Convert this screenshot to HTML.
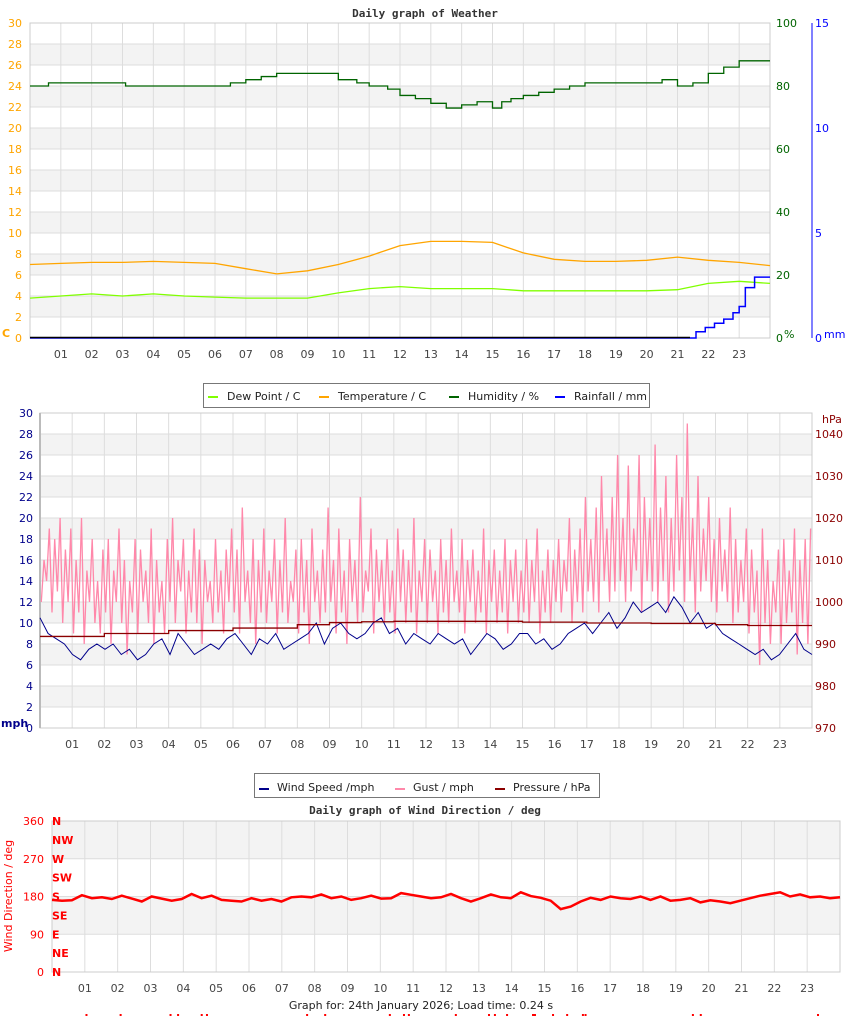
<!DOCTYPE html>
<html><head><meta charset="utf-8"><style>
body{margin:0;background:#fff;width:850px;height:1017px;overflow:hidden}
svg{display:block}
text{font-family:"DejaVu Sans","Liberation Sans",sans-serif;font-size:11px}
.ttl{font-family:"DejaVu Sans Mono","Liberation Mono",monospace;font-weight:bold;font-size:11px;fill:#333}
</style></head><body>
<svg id="s" width="850" height="1017" xmlns="http://www.w3.org/2000/svg"></svg>
<script>
// ===== Chart 1 data =====
const hourLabels=["01","02","03","04","05","06","07","08","09","10","11","12","13","14","15","16","17","18","19","20","21","22","23"];
const tempHours=[0,1,2,3,4,5,6,7,8,9,10,11,12,13,14,15,16,17,18,19,20,21,22,23,24];
const tempVals=[7.0,7.1,7.2,7.2,7.3,7.2,7.1,6.6,6.1,6.4,7.0,7.8,8.8,9.2,9.2,9.1,8.1,7.5,7.3,7.3,7.4,7.7,7.4,7.2,6.9];
const dewVals=[3.8,4.0,4.2,4.0,4.2,4.0,3.9,3.8,3.8,3.8,4.3,4.7,4.9,4.7,4.7,4.7,4.5,4.5,4.5,4.5,4.5,4.6,5.2,5.4,5.2];
const humHours=[0,0.6,3,3.1,5.5,6.5,7,7.5,8,9.3,10,10.6,11,11.6,12,12.5,13,13.5,14,14.5,15,15.3,15.6,16,16.5,17,17.5,18,19,20,20.5,21,21.5,22,22.5,23,24];
const humVals=[80,81,81,80,80,81,82,83,84,84,82,81,80,79,77,76,74.5,73,74,75,73,75,76,77,78,79,80,81,81,81,82,80,81,84,86,88,88];
const rainHours=[0,21.4,21.6,21.9,22.2,22.5,22.8,23.0,23.2,23.5,24];
const rainVals=[0,0,0.3,0.5,0.7,0.9,1.2,1.5,2.4,2.9,2.9];
const tempTicks=[0,2,4,6,8,10,12,14,16,18,20,22,24,26,28,30];
const humTicks=[0,20,40,60,80,100];
const rainTicks=[0,5,10,15];
// ===== Chart 2 data =====
const gustVals=[
12,16,14,19,11,18,13,20,10,17,12,19, 9,16,11,20,8,15,12,18,10,14,9,17,
11,18,8,15,12,19,10,16,7,14,11,18, 9,17,12,15,10,19,8,16,11,14,9,18,
12,20,10,16,13,18,9,15,11,19,10,17, 8,16,12,14,10,18,11,15,9,17,12,19,
11,17,9,21,12,15,10,18,8,16,11,19, 10,15,12,18,9,16,11,20,10,14,12,17,
9,18,11,16,8,19,12,15,10,17,11,21, 12,16,9,19,11,15,8,18,12,16,10,22,
11,15,13,19,9,17,12,16,10,18,11,15, 9,19,12,17,10,16,11,20,9,15,12,18,
10,17,12,15,9,18,11,16,10,19,12,15, 11,18,9,16,12,17,10,15,11,19,9,16,
12,17,10,15,11,18,9,16,12,17,10,15, 11,18,10,16,12,19,9,15,11,17,10,16,
12,18,11,16,13,20,10,17,12,19,11,22, 13,18,12,21,11,24,14,19,12,22,13,26,
14,20,12,25,13,19,15,26,11,22,14,20, 13,27,12,21,14,24,11,20,13,26,15,22,
12,29,14,20,11,24,13,19,14,22,12,18, 11,20,13,17,12,21,10,18,11,16,12,19,
9,17,11,15,6,19,10,16,8,14,11,17, 8,18,10,15,11,19,7,16,10,18,8,19];
const windVals=[10.5,9,8.5,8,7,6.5,7.5,8,7.5,8,7,7.5,6.5,7,8,8.5,7,9,8,7,7.5,8,7.5,8.5,9,8,7,8.5,8,9,7.5,8,8.5,9,10,8,9.5,10,9,8.5,9,10,10.5,9,9.5,8,9,8.5,8,9,8.5,8,8.5,7,8,9,8.5,7.5,8,9,9,8,8.5,7.5,8,9,9.5,10,9,10,11,9.5,10.5,12,11,11.5,12,11,12.5,11.5,10,11,9.5,10,9,8.5,8,7.5,7,7.5,6.5,7,8,9,7.5,7];
const pressHours=[0,2,4,6,8,9,10,11,13,15,17,19,21,22,24];
const pressVals=[991.8,992.5,993.2,993.8,994.6,995.1,995.3,995.4,995.4,995.2,995.0,994.9,994.6,994.4,994.4];
const mphTicks=[0,2,4,6,8,10,12,14,16,18,20,22,24,26,28,30];
const hpaTicks=[970,980,990,1000,1010,1020,1030,1040];
// ===== Chart 3 data =====
const dirVals=[172,170,171,183,176,178,174,182,175,168,180,175,170,174,186,176,182,172,170,168,176,170,174,168,178,180,178,185,176,180,172,176,182,175,176,188,184,180,176,178,186,176,168,176,185,178,176,190,181,177,170,150,156,168,177,172,180,176,174,180,172,180,170,172,176,166,171,168,164,170,176,182,186,190,180,185,178,180,176,178];
const dirTicks=[0,90,180,270,360];
const dirNames=["N","NE","E","SE","S","SW","W","NW","N"];
const tipHours=[1.05,2.09,3.61,3.84,4.56,4.72,7.77,8.32,10.29,10.72,10.87,12.3,13.31,13.49,13.86,14.65,14.71,15.26,15.69,16.17,16.25,19.52,19.76,23.33];

const S=document.getElementById('s');const NS="http://www.w3.org/2000/svg";
function el(t,a,p){const e=document.createElementNS(NS,t);for(const k in a)e.setAttribute(k,a[k]);(p||S).appendChild(e);return e;}
function tx(x,y,s,a,p){const e=el('text',Object.assign({x:x,y:y},a||{}),p);e.textContent=s;return e;}
function path(pts){return pts.map((p,i)=>(i?'L':'M')+p[0].toFixed(1)+' '+p[1].toFixed(1)).join('');}
function stepPath(pts){let d='';pts.forEach((p,i)=>{if(!i)d+='M'+p[0]+' '+p[1];else d+='L'+p[0]+' '+pts[i-1][1]+'L'+p[0]+' '+p[1];});return d;}

// ---------- Chart 1 ----------
const x1=h=>30+h*740/24, yT=v=>338-v*10.5, yH=v=>338-v*3.15, yR=v=>338-v*21;
const g1=el('g',{});


let t=tx(425,17,'Daily graph of Weather',{class:'ttl','text-anchor':'middle'},g1);

for(let i=0;i<15;i++){if(i%2==1)el('rect',{x:30,y:yT(30-2*i),width:740,height:21,fill:'#f3f3f3'},g1);}
tempTicks.forEach(v=>{el('line',{x1:30,x2:770,y1:yT(v),y2:yT(v),stroke:'#ddd'},g1);
 const l=tx(22,yT(v)+4,String(v),{fill:'#ffa500','text-anchor':'end'},g1);});
for(let h=1;h<24;h++)el('line',{x1:x1(h),x2:x1(h),y1:23,y2:338,stroke:'#ddd'},g1);
el('rect',{x:30,y:23,width:740,height:315,fill:'none',stroke:'#ccc'},g1);
hourLabels.forEach((s,i)=>{const l=tx(x1(i+1),358,s,{fill:'#444','text-anchor':'middle'},g1);});
humTicks.forEach(v=>{const l=tx(776,yH(v)+4,String(v),{fill:'#006400'},g1);});
tx(784,338,'%',{fill:'#006400'},g1);
el('line',{x1:812,x2:812,y1:23,y2:338,stroke:'#0000ff'},g1);
rainTicks.forEach(v=>{const l=tx(815,yR(v)+4,String(v),{fill:'#0000ff'},g1);});
tx(824,338,'mm',{fill:'#0000ff'},g1);
tx(2,337,'C',{fill:'#ffa500','font-weight':'bold'},g1);
let p=el('path',{d:stepPath(humHours.map((h,i)=>[x1(h),yH(humVals[i])])),fill:'none',stroke:'#006400','stroke-width':1.3},g1);

p=el('path',{d:path(tempHours.map((h,i)=>[x1(h),yT(tempVals[i])])),fill:'none',stroke:'#ffa500','stroke-width':1.3},g1);

p=el('path',{d:path(tempHours.map((h,i)=>[x1(h),yT(dewVals[i])])),fill:'none',stroke:'#80ff00','stroke-width':1.3},g1);

p=el('path',{d:stepPath(rainHours.map((h,i)=>[x1(h),yR(rainVals[i])])),fill:'none',stroke:'#0000ff','stroke-width':1.5},g1);

el('line',{x1:30,x2:690,y1:337.5,y2:337.5,stroke:'#000','stroke-width':1.5},g1);
// legend 1
const L1=el('g',{});
el('rect',{x:203.5,y:383.5,width:446,height:24,fill:'#fff',stroke:'#777'},L1);
[["Dew Point / C","#80ff00",208],["Temperature / C","#ffa500",319],["Humidity / %","#006400",449],["Rainfall / mm","#0000ff",555]].forEach(a=>{
 const g=el('g',{},L1);
 el('rect',{x:a[2],y:396,width:10,height:2,fill:a[1]},g);tx(a[2]+19,400,a[0],{fill:'#222'},g);});

// ---------- Chart 2 ----------
const x2=h=>40+h*772/24, y2=v=>728-v*10.5, yP=v=>728-(v-970)*4.2;
const g2=el('g',{});
for(let i=0;i<15;i++){if(i%2==1)el('rect',{x:40,y:y2(30-2*i),width:772,height:21,fill:'#f3f3f3'},g2);}
mphTicks.forEach(v=>{el('line',{x1:40,x2:812,y1:y2(v),y2:y2(v),stroke:'#ddd'},g2);
 const l=tx(33,y2(v)+4,String(v),{fill:'#00008b','text-anchor':'end'},g2);});
for(let h=1;h<24;h++)el('line',{x1:x2(h),x2:x2(h),y1:413,y2:728,stroke:'#ddd'},g2);
el('rect',{x:40,y:413,width:772,height:315,fill:'none',stroke:'#ccc'},g2);
el('line',{x1:40,x2:40,y1:413,y2:728,stroke:'#bbb','stroke-width':2},g2);
hourLabels.forEach((s,i)=>{const l=tx(x2(i+1),748,s,{fill:'#444','text-anchor':'middle'},g2);});
hpaTicks.forEach(v=>{const l=tx(815,yP(v)+4,String(v),{fill:'#8b0000'},g2);});
tx(822,423,'hPa',{fill:'#8b0000'},g2);
tx(1,727,'mph',{fill:'#00008b','font-weight':'bold'},g2);
p=el('path',{d:path(gustVals.map((v,i)=>[x2(i*24/gustVals.length+0.04),y2(v)])),fill:'none',stroke:'#ff88aa','stroke-width':1.3},g2);

p=el('path',{d:path(windVals.map((v,i)=>[x2(i*24/(windVals.length-1)),y2(v)])),fill:'none',stroke:'#00008b','stroke-width':1},g2);

p=el('path',{d:stepPath(pressHours.map((h,i)=>[x2(h),yP(pressVals[i])])),fill:'none',stroke:'#8b0000','stroke-width':1.3},g2);

const L2=el('g',{});
el('rect',{x:254.5,y:773.5,width:345,height:24,fill:'#fff',stroke:'#777'},L2);
[["Wind Speed /mph","#00008b",259],["Gust / mph","#ff88aa",395],["Pressure / hPa","#8b0000",495]].forEach(a=>{
 const g=el('g',{},L2);
 el('rect',{x:a[2],y:788,width:10,height:2,fill:a[1]},g);tx(a[2]+18,791,a[0],{fill:'#222'},g);});

// ---------- Chart 3 ----------
const x3=h=>52+h*788/24, y3=d=>972-d*151/360;
const g3=el('g',{});
t=tx(425,814,'Daily graph of Wind Direction / deg',{class:'ttl','text-anchor':'middle'},g3);

el('rect',{x:52,y:y3(360),width:788,height:y3(270)-y3(360),fill:'#f3f3f3'},g3);
el('rect',{x:52,y:y3(180),width:788,height:y3(90)-y3(180),fill:'#f3f3f3'},g3);
dirTicks.forEach(v=>{el('line',{x1:52,x2:840,y1:y3(v),y2:y3(v),stroke:'#ddd'},g3);
 const l=tx(44,y3(v)+4,String(v),{fill:'#ff0000','text-anchor':'end'},g3);});
for(let h=1;h<24;h++)el('line',{x1:x3(h),x2:x3(h),y1:821,y2:972,stroke:'#ddd'},g3);
el('rect',{x:52,y:821,width:788,height:151,fill:'none',stroke:'#ccc'},g3);
dirNames.forEach((s,i)=>{const l=tx(52,y3(i*45)+4,s,{fill:'#ff0000','font-weight':'bold','font-family':'DejaVu Sans Mono,monospace'},g3);});
t=tx(0,0,'Wind Direction / deg',{fill:'#ff0000',transform:'translate(12,896) rotate(-90)','text-anchor':'middle'},g3);

hourLabels.forEach((s,i)=>{const l=tx(x3(i+1),992,s,{fill:'#444','text-anchor':'middle'},g3);});
p=el('path',{d:path(dirVals.map((v,i)=>[x3(i*24/(dirVals.length-1)),y3(v)])),fill:'none',stroke:'#ff0000','stroke-width':2.5},g3);

t=tx(421,1009,'Graph for: 24th January 2026; Load time: 0.24 s',{fill:'#222','text-anchor':'middle'});

tipHours.forEach(h=>{const c=el('rect',{x:x3(h)-1,y:1014,width:2,height:2,fill:'#ff0000'});
 });
</script>
</body></html>
